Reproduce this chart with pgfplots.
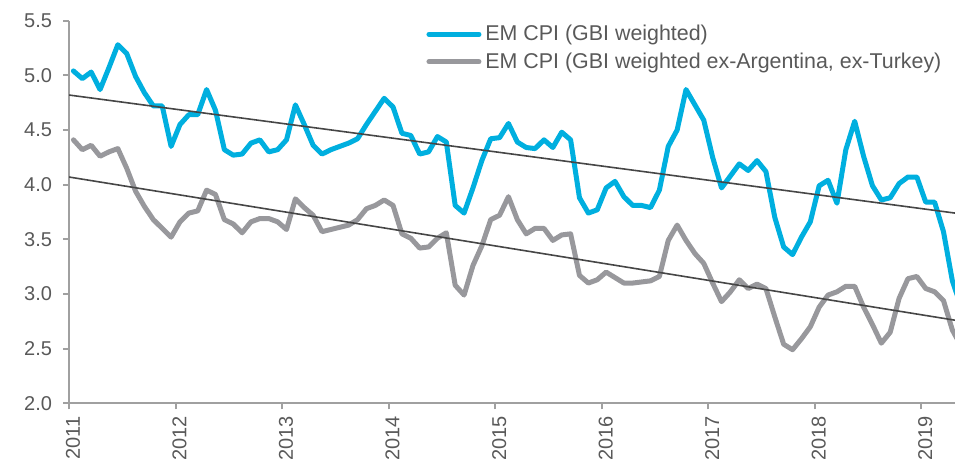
\documentclass[border=0pt]{standalone}
\usepackage{fontspec}
\setmainfont{Liberation Sans}
\usepackage{pgfplots}
\usepackage{pgfplotstable}
\pgfplotsset{compat=1.18}
\definecolor{cpiblue}{RGB}{0,175,223}
\definecolor{cpigray}{RGB}{152,152,156}
\definecolor{txtgray}{RGB}{89,89,89}
\definecolor{axgray}{RGB}{160,160,160}
\definecolor{trendc}{RGB}{70,70,70}
\pgfplotstableread{
i blue gray
0 5.04 4.41
1 4.97 4.32
2 5.03 4.36
3 4.87 4.26
4 5.07 4.30
5 5.28 4.33
6 5.20 4.15
7 4.99 3.94
8 4.84 3.80
9 4.72 3.68
10 4.72 3.60
11 4.35 3.52
12 4.55 3.66
13 4.64 3.74
14 4.64 3.76
15 4.87 3.95
16 4.68 3.91
17 4.32 3.68
18 4.27 3.64
19 4.28 3.56
20 4.38 3.66
21 4.41 3.69
22 4.30 3.69
23 4.32 3.66
24 4.41 3.59
25 4.73 3.87
26 4.55 3.79
27 4.36 3.72
28 4.28 3.57
29 4.32 3.59
30 4.35 3.61
31 4.38 3.63
32 4.42 3.68
33 4.55 3.78
34 4.67 3.81
35 4.79 3.86
36 4.71 3.81
37 4.47 3.55
38 4.45 3.51
39 4.28 3.42
40 4.30 3.43
41 4.44 3.51
42 4.39 3.56
43 3.81 3.08
44 3.74 2.99
45 3.97 3.26
46 4.22 3.44
47 4.42 3.68
48 4.43 3.72
49 4.56 3.89
50 4.39 3.68
51 4.34 3.55
52 4.33 3.60
53 4.41 3.60
54 4.34 3.49
55 4.48 3.54
56 4.41 3.55
57 3.88 3.17
58 3.74 3.10
59 3.77 3.13
60 3.97 3.20
61 4.03 3.15
62 3.89 3.10
63 3.81 3.10
64 3.81 3.11
65 3.79 3.12
66 3.95 3.16
67 4.35 3.49
68 4.50 3.63
69 4.87 3.49
70 4.73 3.37
71 4.59 3.28
72 4.25 3.10
73 3.97 2.93
74 4.08 3.02
75 4.19 3.13
76 4.13 3.05
77 4.22 3.09
78 4.12 3.05
79 3.70 2.79
80 3.43 2.54
81 3.36 2.49
82 3.52 2.59
83 3.66 2.70
84 3.99 2.88
85 4.04 2.99
86 3.83 3.02
87 4.32 3.07
88 4.58 3.07
89 4.26 2.88
90 3.99 2.72
91 3.86 2.55
92 3.88 2.65
93 4.01 2.96
94 4.07 3.14
95 4.07 3.16
96 3.84 3.05
97 3.84 3.02
98 3.57 2.94
99 3.12 2.67
100 2.88 2.52
}\cpidata
\begin{document}
\begin{tikzpicture}
\useasboundingbox (0,0) rectangle (477.5pt,232pt);
\begin{axis}[
  at={(34.5pt,30.35pt)}, anchor=south west,
  scale only axis, width=443pt, height=191.3pt,
  xmin=0, xmax=99.8, ymin=2, ymax=5.5,
  axis x line*=bottom, axis y line*=left,
  axis line style={axgray, line width=1pt, -},
  xtick={0,12,24,36,48,60,72,84,96},
  xticklabels={2011,2012,2013,2014,2015,2016,2017,2018,2019},
  ytick={2,2.5,3,3.5,4,4.5,5,5.5},
  yticklabel style={/pgf/number format/fixed, /pgf/number format/fixed zerofill, /pgf/number format/precision=1, xshift=-2pt},
  x tick label style={rotate=90, anchor=east, yshift=-2pt},
  tick label style={font=\fontsize{10}{12}\selectfont, text=txtgray},
  /pgf/number format/assume math mode=true,
  tick align=outside, major tick length=3pt,
  tick style={axgray, line width=1pt},
  legend style={at={(0.403,1.0)}, anchor=north west, draw=none, fill=none,
    font=\fontsize{10.7}{12}\selectfont, text=txtgray, inner sep=0pt,
    row sep=0.5pt},
  legend cell align=left,
  legend image code/.code={\draw[#1] (0pt,0pt) -- (25pt,0pt);},
  clip=true,
]
\addplot[cpiblue, line width=2.5pt, line join=round, line cap=round]
  table[x expr=\thisrow{i}+0.5, y=blue] {\cpidata};
\addlegendentry{EM CPI (GBI weighted)}
\addplot[cpigray, line width=2.5pt, line join=round, line cap=round]
  table[x expr=\thisrow{i}+0.5, y=gray] {\cpidata};
\addlegendentry{EM CPI (GBI weighted ex-Argentina, ex-Turkey)}
\addplot[trendc, line width=0.8pt, forget plot] coordinates {(0,4.82) (99.8,3.74)};
\addplot[trendc, line width=0.8pt, forget plot] coordinates {(0,4.07) (99.8,2.76)};
\end{axis}
\end{tikzpicture}
\end{document}
